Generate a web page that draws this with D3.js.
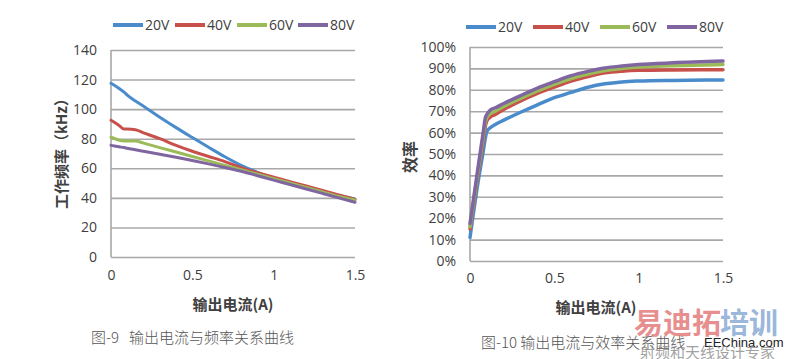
<!DOCTYPE html>
<html><head><meta charset="utf-8">
<script src="https://cdn.jsdelivr.net/npm/d3@7/dist/d3.min.js"></script>
<style>
html,body{margin:0;padding:0;background:#fff;}
svg{display:block;}
</style></head>
<body>
<svg id="c" width="786" height="359"></svg>
<script>
// ---------- data ----------
const seriesNames = ["20V", "40V", "60V", "80V"];
const seriesColors = ["#4A8BCB", "#C8504B", "#9BBB59", "#7F66A0"];

// Figure 9: output current (A) vs frequency (kHz)
const freqI = [0, 0.05, 0.08, 0.1, 0.15, 0.2, 0.3, 0.4, 0.5, 0.6, 0.7, 0.8, 0.9, 1.0, 1.1, 1.2, 1.3, 1.4, 1.5];
const freq20V = [117.5, 114, 111.5, 109.5, 105.5, 102, 94.5, 87.5, 80.8, 74.2, 67.8, 62, 57.3, 53.3, 50, 47, 44.3, 41.7, 39.3];
const freq40V = [92.5, 89, 86.5, 86.5, 86, 84, 80, 75.5, 71.5, 68, 64.5, 60.5, 57, 54, 51, 48, 45, 42, 39];
const freq60V = [81, 79, 78.5, 78.5, 78.5, 77, 74, 71, 68, 65, 62, 59, 56, 53, 50, 47, 44, 41, 38.5];
const freq80V = [75.5, 74.5, 74, 73.5, 72.5, 71.5, 69.5, 67.5, 65.3, 63, 60.5, 58, 55, 52, 49, 46, 43, 40, 37];

// Figure 10: output current (A) vs efficiency (%)
const effI = [0, 0.05, 0.08, 0.09, 0.1, 0.12, 0.15, 0.2, 0.3, 0.4, 0.5, 0.6, 0.7, 0.8, 0.9, 1.0, 1.2, 1.5];
const eff20V = [11, 38, 52, 57, 60.5, 62.3, 63.8, 65.8, 69.5, 73, 76.3, 78.8, 81.2, 82.8, 83.7, 84.1, 84.4, 84.6];
const eff40V = [15, 42, 57, 62.5, 65.5, 67.2, 68.5, 70.8, 74.8, 78.3, 81.3, 84.1, 86.2, 87.9, 88.7, 89.1, 89.3, 89.4];
const eff60V = [16, 43.5, 59, 64.5, 67, 68.8, 70, 72.2, 76, 79.5, 82.6, 85.3, 87.4, 89, 90, 90.6, 91.2, 91.8];
const eff80V = [17.5, 45, 61, 66.5, 68.5, 70.5, 71.6, 73.6, 77.3, 80.8, 83.8, 86.6, 88.6, 90.2, 91.1, 91.8, 92.6, 93.4];

const xTicks = [0, 0.5, 1, 1.5];
const freqTicks = [0, 20, 40, 60, 80, 100, 120, 140];
const effTicks = [0, 10, 20, 30, 40, 50, 60, 70, 80, 90, 100];

const xTitle = "输出电流(A)";
const freqYTitle = "工作频率（kHz）";
const effYTitle = "效率";
const caption9 = "图-9   输出电流与频率关系曲线";
const caption10 = "图-10 输出电流与效率关系曲线";

// ---------- drawing ----------
const svg = d3.select("#c");
const tickFont = "'Open Sans','Noto Sans',sans-serif";
const cjkFont = "'Noto Sans CJK SC','Noto Sans',sans-serif";
const textCol = "#404040";
const gridCol = "#a8a8a8";

function drawChart(cfg) {
  const x = d3.scaleLinear().domain([0, 1.5]).range([cfg.x0, cfg.x1]);
  const y = d3.scaleLinear().domain(cfg.yDomain).range([cfg.y0, cfg.y1]);
  const g = svg.append("g");

  const grid = g.append("g").attr("transform", `translate(${cfg.x0},0)`)
    .call(d3.axisLeft(y).tickValues(cfg.yTicks).tickSize(-(cfg.x1 - cfg.x0)).tickFormat(""));
  grid.select(".domain").remove();
  grid.selectAll("line").attr("stroke", gridCol).attr("stroke-width", 1.6);

  const ya = g.append("g").attr("transform", `translate(${cfg.yLabX},0)`)
    .call(d3.axisLeft(y).tickValues(cfg.yTicks).tickSize(0).tickPadding(0).tickFormat(cfg.yFmt));
  ya.select(".domain").remove();
  ya.selectAll("text").attr("fill", textCol).style("font-family", tickFont).style("font-size", "14px");

  g.append("line").attr("x1", cfg.x0).attr("x2", cfg.x0).attr("y1", y(cfg.yDomain[0])).attr("y2", y(cfg.yDomain[1]))
    .attr("stroke", gridCol).attr("stroke-width", 1.6);

  const xa = g.append("g").attr("transform", `translate(0,${cfg.xLabY})`)
    .call(d3.axisBottom(x).tickValues(xTicks).tickSize(0).tickPadding(0).tickFormat(d => String(d)));
  xa.select(".domain").remove();
  xa.selectAll("text").attr("fill", textCol).style("font-family", tickFont).style("font-size", "14px");

  const line = d3.line().x(d => x(d[0])).y(d => y(d[1])).curve(d3.curveMonotoneX);
  cfg.series.forEach((vals, i) => {
    const pts = cfg.xs.map((xv, k) => [xv, vals[k]]);
    g.append("path").datum(pts).attr("d", line).attr("fill", "none")
      .attr("stroke", seriesColors[i]).attr("stroke-width", cfg.lw).attr("stroke-linejoin", "round").attr("stroke-linecap", "round");
  });

  const leg = g.append("g");
  cfg.legX.forEach((lx, i) => {
    leg.append("line").attr("x1", lx).attr("x2", lx + 30).attr("y1", cfg.legY).attr("y2", cfg.legY)
      .attr("stroke", seriesColors[i]).attr("stroke-width", 4);
    leg.append("text").attr("x", lx + 32).attr("y", cfg.legY).attr("dy", "0.35em")
      .attr("fill", textCol).style("font-family", tickFont).style("font-size", "14px").text(seriesNames[i]);
  });

  g.append("text").attr("x", cfg.xTitleX).attr("y", cfg.xTitleY).attr("text-anchor", "middle").attr("dy", "0.35em")
    .attr("fill", textCol).style("font-family", cjkFont).style("font-size", "15px").style("font-weight", "bold").text(xTitle);
  g.append("text").attr("transform", `translate(${cfg.yTitleX},${cfg.yTitleY}) rotate(-90)`).attr("text-anchor", "middle").attr("dy", "0.35em")
    .attr("fill", textCol).style("font-family", cjkFont).style("font-size", cfg.yTitleSize).style("font-weight", "bold").text(cfg.yTitle);
  g.append("text").attr("x", cfg.capX).attr("y", cfg.capY).attr("dy", "0.35em")
    .attr("fill", "#555").style("font-family", cjkFont).style("font-size", "15px").style("font-weight", "300")
    .style("white-space", "pre").attr("xml:space", "preserve").text(cfg.caption);
}

drawChart({
  x0: 111, x1: 355, y0: 257, y1: 50, yDomain: [0, 140], yTicks: freqTicks, yFmt: d => String(d),
  yLabX: 97, xLabY: 270, xs: freqI, series: [freq20V, freq40V, freq60V, freq80V], lw: 3,
  legX: [113, 175, 237, 298], legY: 25,
  xTitleX: 233, xTitleY: 305, yTitleX: 62, yTitleY: 150, yTitle: freqYTitle, yTitleSize: "15px",
  capX: 91, capY: 338, caption: caption9
});

drawChart({
  x0: 470, x1: 723, y0: 261, y1: 47, yDomain: [0, 100], yTicks: effTicks, yFmt: d => d + "%",
  yLabX: 456, xLabY: 273, xs: effI, series: [eff20V, eff40V, eff60V, eff80V], lw: 3.5,
  legX: [466, 533, 600, 667], legY: 27,
  xTitleX: 596, xTitleY: 308, yTitleX: 410, yTitleY: 157, yTitle: effYTitle, yTitleSize: "16px",
  capX: 481, capY: 343, caption: caption10
});

// watermark
const wm = svg.append("g");
wm.append("text").attr("x", 634).attr("y", 334).attr("fill", "#e06a6a").attr("fill-opacity", 0.75)
  .style("font-family", cjkFont).style("font-size", "29px").style("font-weight", "bold").text("易迪拓");
wm.append("text").attr("x", 720).attr("y", 334).attr("fill", "#7fa3cf").attr("fill-opacity", 0.8)
  .style("font-family", cjkFont).style("font-size", "29px").style("font-weight", "bold").text("培训");
wm.append("text").attr("x", 704).attr("y", 347).attr("fill", "#222")
  .style("font-family", "'Liberation Sans',sans-serif").style("font-size", "13px").text("EEChina.com");
wm.append("text").attr("x", 640).attr("y", 358).attr("fill", "#888").attr("fill-opacity", 0.8)
  .style("font-family", cjkFont).style("font-size", "15px").text("射频和天线设计专家");
</script>
</body></html>
